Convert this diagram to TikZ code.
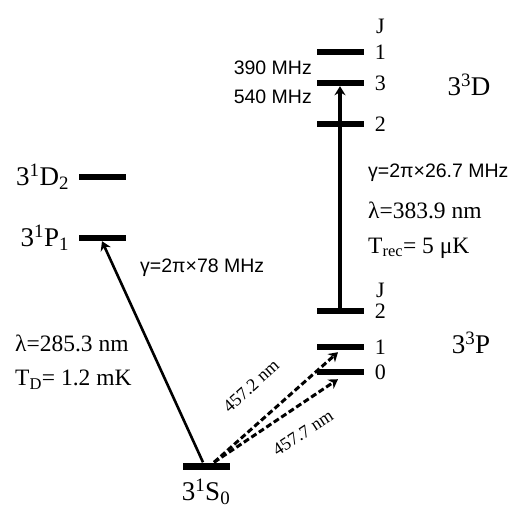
\documentclass[tikz,border=0pt]{standalone}
\usepackage{fontspec}
\setmainfont{Liberation Serif}
\setsansfont{Liberation Sans}
\usetikzlibrary{arrows.meta,positioning}

\begin{document}
\begin{tikzpicture}[x=1pt, y=-1pt, node distance=6pt and 10pt, level/.style={fill=black,inner sep=0pt,minimum width=47pt,minimum height=6pt}, term/.style={font=\fontsize{27}{29}\selectfont,inner sep=1pt}, jnum/.style={font=\fontsize{22}{24}\selectfont,inner sep=1pt}, freq/.style={font=\sffamily\fontsize{19.5}{21}\selectfont,inner sep=0pt}, param/.style={font=\fontsize{23.5}{25}\selectfont,inner sep=0pt,anchor=west}, wavel/.style={font=\fontsize{18}{19}\selectfont,inner sep=0pt}, arrow/.style={-{Stealth[length=9pt,width=11pt]},line width=3pt}, dasharrow/.style={arrow,dash pattern=on 6pt off 3pt}]
\useasboundingbox (0,0) rectangle (517,525);
% singlet levels
\node[level, minimum height=7pt] (s0) at (206,466) {};
\node[level] (p1) at (102,238) {};
\node[level] (d2) at (102,177) {};
% triplet levels
\node[level] (tp0) at (340,372) {};
\node[level] (tp1) at (340,347) {};
\node[level] (tp2) at (340,311) {};
\node[level] (td2) at (340,124) {};
\node[level] (td3) at (340,83) {};
\node[level] (td1) at (340,52) {};
% term labels
\node[term, below=8pt of s0] (s0lbl) {3\textsuperscript{1}S\textsubscript{0}};
\node[term, left=8pt of p1] (p1lbl) {3\textsuperscript{1}P\textsubscript{1}};
\node[term, left=8pt of d2] (d2lbl) {3\textsuperscript{1}D\textsubscript{2}};
\node[term] (tplbl) at (471,343) {3\textsuperscript{3}P};
\node[term] (tdlbl) at (469,85) {3\textsuperscript{3}D};
% J values
\node[jnum, right=of tp0] (j0) {0};
\node[jnum, right=of tp1] (j1) {1};
\node[jnum, right=of tp2] (j2) {2};
\node[jnum, above=4pt of j2] (jp) {J};
\node[jnum, right=of td2] (k2) {2};
\node[jnum, right=of td3] (k3) {3};
\node[jnum, right=of td1] (k1) {1};
\node[jnum, above=9pt of k1] (jd) {J};
% splittings
\node[freq, anchor=east] (f390) at (312,68) {390 MHz};
\node[freq, anchor=east] (f540) at (312,97) {540 MHz};
% transition data
\node[freq, anchor=west] (gam1) at (140,268) {γ=2π×78 MHz};
\node[param] (lam1) at (15,343) {λ=285.3 nm};
\node[param] (td) at (15,380) {T\textsubscript{D}= 1.2 mK};
\node[freq, anchor=west] (gam2) at (368,173) {γ=2π×26.7 MHz};
\node[param] (lam2) at (368,210) {λ=383.9 nm};
\node[param] (trec) at (368,248) {T\textsubscript{rec}= 5 μK};
\node[wavel, rotate=42] (w1) at (251,386) {457.2 nm};
\node[wavel, rotate=33] (w2) at (303,433) {457.7 nm};
% transitions
\draw[arrow, line width=2.6pt] ([xshift=-3pt]s0.north) -- (p1.south);
\draw[arrow, line width=3.5pt] (tp2.north) -- (td3.south);
\draw[dasharrow] ([xshift=8pt]s0.north) -- ([xshift=-2pt,yshift=-2pt]tp1.south);
\draw[dasharrow] ([xshift=8pt]s0.north) -- ([xshift=-2pt,yshift=-4pt]tp0.south);
\end{tikzpicture}
\end{document}
